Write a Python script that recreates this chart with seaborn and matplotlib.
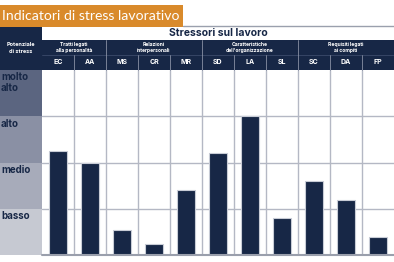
import matplotlib
matplotlib.use('Agg')
import matplotlib.pyplot as plt
from matplotlib.patches import Rectangle
import seaborn as sns
import pandas as pd

# dati (scala 0-4: basso, medio, alto, molto alto)
codes = ['EC', 'AA', 'MS', 'CR', 'MR', 'SD', 'LA', 'SL', 'SC', 'DA', 'FP']
values = [2.25, 2.0, 0.53, 0.24, 1.4, 2.2, 3.0, 0.8, 1.6, 1.2, 0.4]
groups = ['Tratti legati\nalla personalità', 'Relazioni\ninterpersonali',
          'Caratteristiche\ndell\'organizzazione', 'Requisiti legati\nai compiti']
group_sizes = [2, 3, 3, 3]
levels = ['basso', 'medio', 'alto', 'molto\nalto']
title = 'Indicatori di stress lavorativo'
header = 'Stressori sul lavoro'
corner = 'Potenziale\ndi stress'

NAVY = '#172746'
ORANGE = '#d98a2b'
GRID = '#b4b8c4'
band_colors = ['#c6c9d2', '#a7abba', '#8a90a4', '#5b6580']

sns.set_theme(style='white')
plt.rcParams['font.family'] = ['Inter', 'DejaVu Sans']

W, H = 394, 262
fig = plt.figure(figsize=(W / 100, H / 100), dpi=100)

def fx(x):
    return x / W

def fy(y):
    return 1 - y / H

def rect(x0, y0, x1, y1, color, z=0):
    fig.add_artist(Rectangle((fx(x0), fy(y1)), fx(x1) - fx(x0), fy(y0) - fy(y1),
                             transform=fig.transFigure, facecolor=color,
                             edgecolor='none', zorder=z))

def line(x0, y0, x1, y1, color, lw=0.8, z=2):
    fig.add_artist(plt.Line2D([fx(x0), fx(x1)], [fy(y0), fy(y1)],
                              transform=fig.transFigure, color=color, lw=lw, zorder=z))

left, top, bottom, right = 42, 70, 255, 394
col_w = (right - left) / len(codes)
band_h = (bottom - top) / len(levels)

# titolo
rect(0, 5, 183, 27, ORANGE)
fig.text(fx(2), fy(16.5), title, color='white', fontsize=10.1, family=['Lato', 'DejaVu Sans'],
         fontweight='normal', va='center', ha='left')

# intestazione
line(183, 25.5, W, 25.5, '#9aa0ad', lw=1)
rect(0, 27, left, top, NAVY)
rect(left, 40, right, top, NAVY)
fig.text(fx(21), fy(48), corner, color='white', fontsize=4, fontweight='bold',
         ha='center', va='center', linespacing=1.4)
fig.text(fx((left + right) / 2), fy(33), header, color=NAVY, fontsize=7.5,
         fontweight='bold', ha='center', va='center')
line(left, 55, right, 55, '#3c4a6a', lw=0.6)
start = 0
for g, n in zip(groups, group_sizes):
    xc = left + col_w * (start + n / 2)
    fig.text(fx(xc), fy(47.5), g, color='white', fontsize=3.6, fontweight='bold',
             ha='center', va='center', linespacing=1.3)
    if start > 0:
        line(left + col_w * start, 40, left + col_w * start, 55, '#8890a4', lw=0.6)
    start += n
for i, c in enumerate(codes):
    fig.text(fx(left + col_w * (i + 0.5)), fy(62.5), c, color='white', fontsize=5,
             fontweight='bold', ha='center', va='center')
    if i > 0:
        line(left + col_w * i, 55, left + col_w * i, top, '#8890a4', lw=0.6)

# colonna livelli
for k, lev in enumerate(levels):
    y1 = bottom - band_h * k
    y0 = y1 - band_h
    rect(0, y0, left, y1, band_colors[k])
    fig.text(fx(1), fy(y0 + 2.5), lev, color=NAVY, fontsize=7, fontweight='bold',
             ha='left', va='top', linespacing=1.1)

# grafico a barre
ax = fig.add_axes([fx(left), fy(bottom), fx(right - left), (bottom - top) / H])
df = pd.DataFrame({'code': codes, 'value': values})
sns.barplot(data=df, x='code', y='value', ax=ax, color=NAVY, width=0.57,
            edgecolor='#c8ccd6', linewidth=0.8, saturation=1, zorder=3)
ax.set_xlim(-0.5, len(codes) - 0.5)
ax.set_ylim(0, len(levels))
for i in range(1, len(codes)):
    ax.axvline(i - 0.5, color=GRID, lw=1, zorder=1)
for k in range(1, len(levels)):
    ax.axhline(k, color=GRID, lw=1, zorder=1)
ax.axhline(0, color='#9a9fac', lw=1.5, zorder=4, clip_on=False)
ax.set_xticks([])
ax.set_yticks([])
ax.set_xlabel('')
ax.set_ylabel('')
for s in ax.spines.values():
    s.set_visible(False)

fig.savefig('out.png', dpi=100)
